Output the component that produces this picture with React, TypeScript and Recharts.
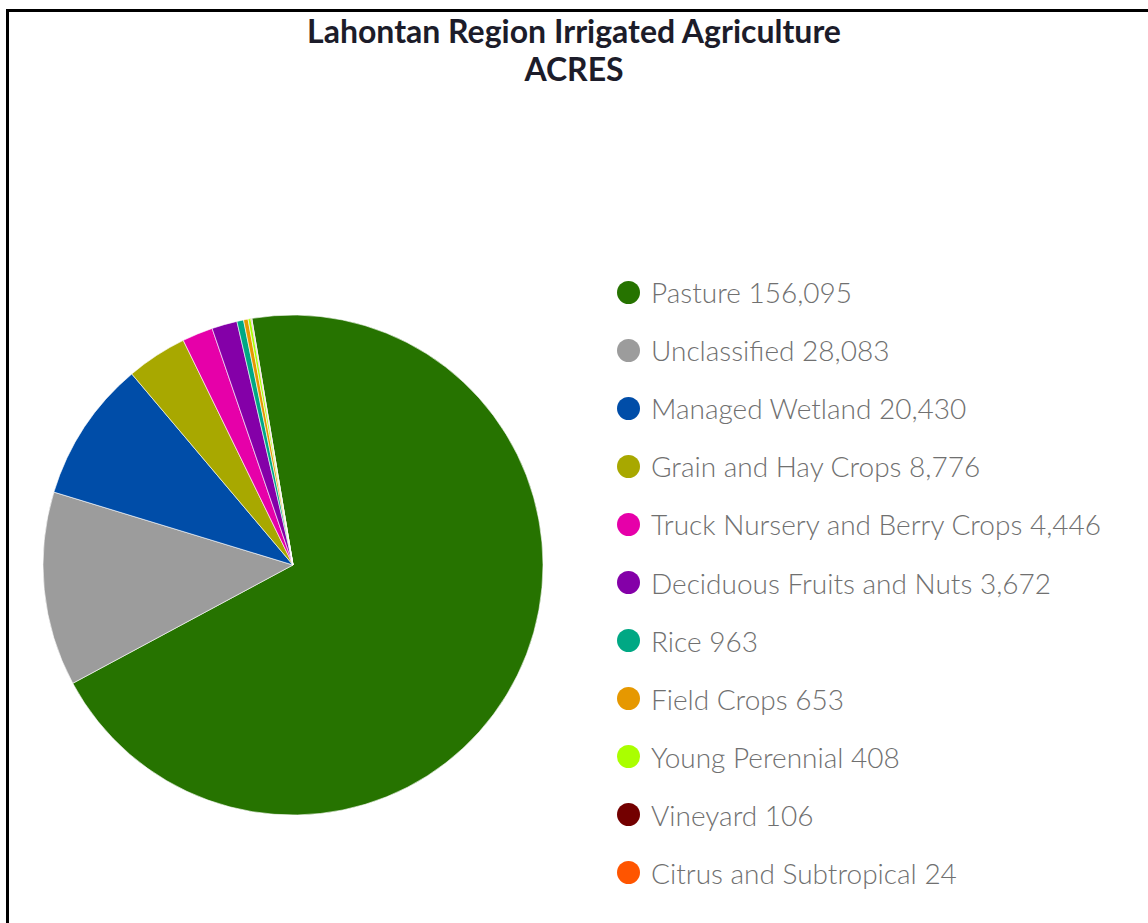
import React from "react";
import { PieChart, Pie, Cell, Legend } from "recharts";

const categories = [
  "Pasture",
  "Unclassified",
  "Managed Wetland",
  "Grain and Hay Crops",
  "Truck Nursery and Berry Crops",
  "Deciduous Fruits and Nuts",
  "Rice",
  "Field Crops",
  "Young Perennial",
  "Vineyard",
  "Citrus and Subtropical",
];

const acres = [156095, 28083, 20430, 8776, 4446, 3672, 963, 653, 408, 106, 24];

const colors = [
  "#267300",
  "#9c9c9c",
  "#004da8",
  "#a8a800",
  "#e600a9",
  "#8400a8",
  "#00a884",
  "#e69800",
  "#aaff00",
  "#730000",
  "#ff5500",
];

const data = categories.map((name, i) => ({ name, value: acres[i] }));

const fmt = (v: number) => v.toLocaleString("en-US");

const LegendList = () => (
  <div>
    {data.map((d, i) => (
      <div
        key={d.name}
        style={{ display: "flex", alignItems: "center", height: 58.1 }}
      >
        <span
          style={{
            width: 23,
            height: 23,
            borderRadius: "50%",
            background: colors[i],
            marginRight: 11,
            flexShrink: 0,
          }}
        />
        <span
          style={{
            fontFamily: "Lato, sans-serif",
            fontWeight: 300,
            fontSize: 28,
            color: "#707070",
            whiteSpace: "nowrap",
          }}
        >
          {d.name} {fmt(d.value)}
        </span>
      </div>
    ))}
  </div>
);

const App = () => {
  return (
    <div
      style={{
        position: "fixed",
        inset: 0,
        overflow: "hidden",
        background: "#fff",
      }}
    >
      <div
        style={{
          position: "absolute",
          left: 6,
          top: 9,
          width: 1300,
          height: 1100,
          borderTop: "3px solid #000",
          borderLeft: "3px solid #000",
        }}
      />
      <div
        style={{
          position: "absolute",
          left: 0,
          top: 12,
          width: 1148,
          textAlign: "center",
          fontFamily: "Lato, sans-serif",
          fontWeight: 700,
          fontSize: 32,
          lineHeight: "38px",
          color: "#1c1c2a",
        }}
      >
        <div>Lahontan Region Irrigated Agriculture</div>
        <div>ACRES</div>
      </div>
      <div style={{ position: "absolute", left: 0, top: 0 }}>
        <PieChart width={1148} height={923}>
          <Pie
            data={data}
            dataKey="value"
            nameKey="name"
            cx={288}
            cy={560}
            outerRadius={250}
            startAngle={99.5}
            endAngle={-260.5}
            stroke="#ffffff"
            strokeWidth={0.6}
            isAnimationActive={false}
          >
            {data.map((d, i) => (
              <Cell key={d.name} fill={colors[i]} />
            ))}
          </Pie>
          <Legend
            content={() => <LegendList />}
            wrapperStyle={{ position: "absolute", left: 617, top: 263, width: 520 }}
          />
        </PieChart>
      </div>
    </div>
  );
};

export default App;
